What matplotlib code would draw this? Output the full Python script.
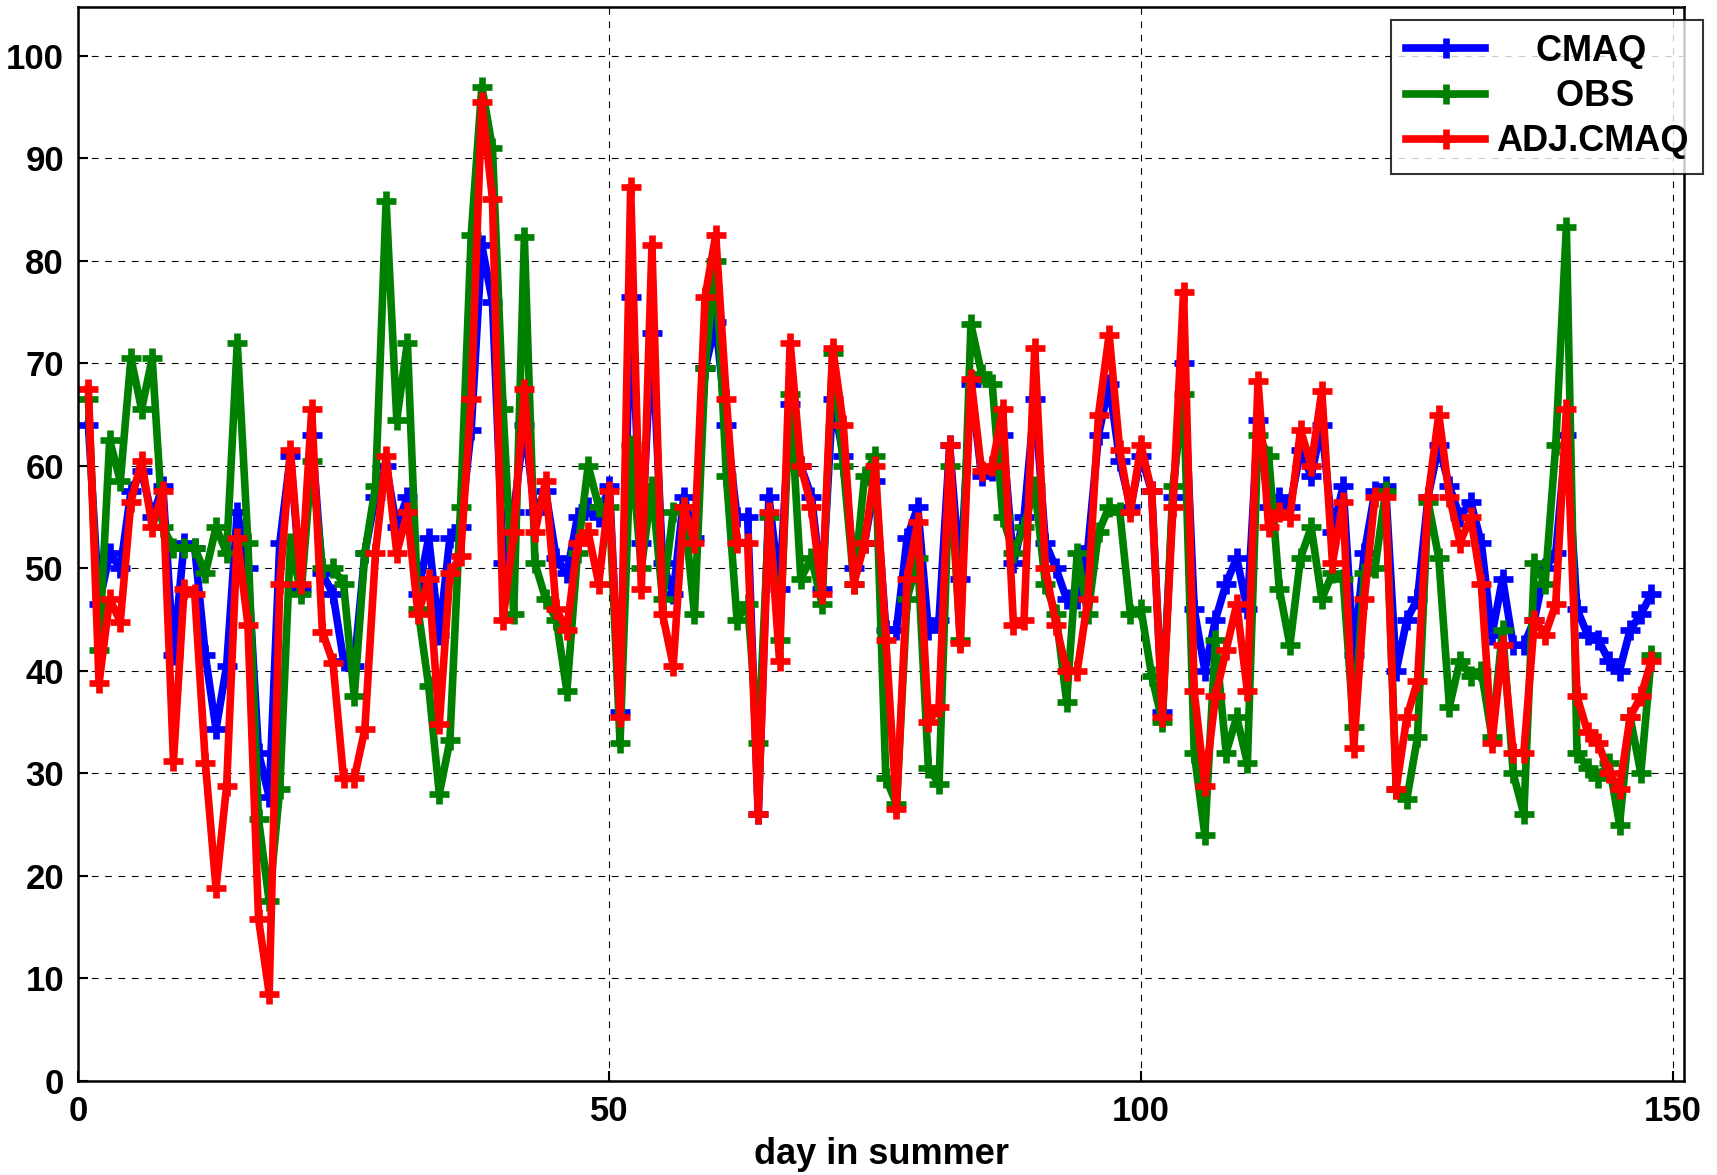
import numpy as np
import matplotlib
matplotlib.use('Agg')
import matplotlib.pyplot as plt

plt.rcParams['font.family'] = ['Liberation Sans', 'DejaVu Sans']
plt.rcParams['font.weight'] = 'bold'

days = np.arange(1, 149)

cmaq = [64, 46.5, 51.5, 50, 57.5, 59.5, 55, 58, 41.5, 52.5,
        52, 41.5, 34.3, 40.5, 55.5, 50, 32, 27.7, 52.5, 61,
        48, 63, 49.5, 47.5, 41, 40.5, 51.5, 57, 60, 54,
        57, 47.5, 53, 43.5, 53, 54, 63.5, 81.5, 76, 50.5,
        55.5, 64, 55.5, 57.5, 51, 49.5, 55, 56, 55, 58,
        36, 76.5, 52.5, 73, 50.5, 47.5, 57, 53, 69.5, 74,
        64, 55, 55, 26, 57, 48, 66, 60, 57, 48,
        66.5, 61, 50, 52.5, 58.5, 44, 44, 53, 56, 44,
        45, 62, 49, 68, 59, 59.5, 63, 50.5, 55, 66.5,
        52.5, 50, 47, 47, 52, 63, 68, 60.5, 56, 61,
        57.5, 36, 57, 70, 46, 40, 45, 48.5, 51, 46,
        64.5, 56, 57, 56, 61.5, 59, 64, 53.5, 58, 41.5,
        51.5, 57.5, 58, 40, 45, 47, 57, 62, 58, 55,
        56.5, 52.5, 43.5, 49, 42.5, 42.5, 45, 50, 51.5, 63,
        46, 43.5, 43, 41, 40, 44, 45.5, 47.5]

obs = [66.5, 42, 62.5, 58.5, 70.5, 65.5, 70.5, 54, 52, 52,
       52, 49.5, 54, 51.5, 72, 52.5, 25.5, 17.5, 28.5, 52.5,
       47.5, 60.5, 50, 50, 48.5, 37.5, 51.5, 58, 85.8, 64.5,
       72, 46, 38.5, 28, 33.2, 56, 82.5, 97, 91, 65.5,
       45.5, 82.3, 50.5, 47, 45, 38, 51.5, 60, 56, 56,
       33, 62, 50, 58, 47, 55.5, 56, 45.5, 69.5, 80,
       59, 45, 46.5, 33, 55, 43, 67, 49, 51, 46.5,
       71, 60, 48.5, 59, 61, 29.5, 27, 47, 51, 30.5,
       29, 60, 43, 73.8, 69, 68, 55, 51.5, 54, 58,
       48.5, 45.5, 37, 51.5, 45.5, 53.5, 56, 55.5, 45.5, 46,
       39.5, 35, 58, 67, 32, 24, 43, 32, 35.5, 31,
       63, 61, 48, 42.5, 51, 54, 47, 49.5, 49, 34.5,
       49.5, 50, 57.5, 28.5, 27.5, 33.5, 56.5, 51, 36.5, 41,
       39.5, 40, 33.5, 44, 30, 26, 50.5, 48.5, 62, 83.3,
       32, 30.5, 29.5, 31, 25, 35.5, 30, 41.5]

adj_cmaq = [67.5, 38.8, 47, 44.8, 56.5, 60.5, 54, 57.5, 31.2, 48,
            47.5, 31, 18.8, 28.8, 53, 44.5, 15.8, 8.5, 48.5, 61.5,
            48.5, 65.5, 43.8, 40.8, 29.5, 29.5, 34.3, 51.5, 61, 51.5,
            55.5, 45.5, 49, 34.8, 49.5, 51.2, 66.5, 95.5, 86, 45,
            53.5, 67.5, 53.5, 58.5, 46, 44, 52.5, 53.5, 48.5, 57.5,
            35.5, 87.2, 48, 81.5, 45.5, 40.5, 56, 52.5, 76.5, 82.5,
            66.5, 52.5, 52.5, 26, 55.5, 41, 72, 60, 56, 47.5,
            71.5, 64, 48.5, 52.5, 60, 43, 26.5, 49, 54.5, 35,
            36.5, 62, 42.7, 68.5, 59.5, 60, 65.5, 44.5, 45, 71.5,
            50, 44.5, 40, 40, 47, 65, 72.8, 61.5, 55.5, 62,
            57.5, 35.5, 56, 77, 38, 28.8, 37.5, 42, 46.5, 38,
            68.3, 54, 55.5, 55, 63.5, 60, 67.3, 50.5, 56.5, 32.5,
            47, 57, 57, 28.5, 35.5, 39, 57, 65, 57, 52.5,
            55, 48.5, 33, 42.5, 32, 32, 45, 43.5, 46.5, 65.5,
            37.5, 34, 33, 30, 28.5, 35.5, 37.5, 41]

fig = plt.figure(figsize=(17.17, 11.75), dpi=100)
ax = fig.add_axes([0.0453, 0.0802, 0.9357, 0.9142])

style = dict(linewidth=5.5, marker='+', markersize=14, markeredgewidth=4.8)
ax.plot(days, cmaq, color='#0000ff', label='    CMAQ', **style)
ax.plot(days, obs, color='#008000', label='      OBS', **style)
ax.plot(days, adj_cmaq, color='#ff0000', label='ADJ.CMAQ', **style)

ax.set_xlim(0, 151.1)
ax.set_ylim(0, 104.8)
ax.set_xticks([0, 50, 100, 150])
ax.set_yticks(np.arange(0, 101, 10))
ax.tick_params(direction='in', labelsize=25, length=7, width=1.5, pad=10)
for lbl in ax.get_xticklabels() + ax.get_yticklabels():
    lbl.set_fontweight('bold')
ax.grid(True, color='black', linestyle=(0, (6, 6)), linewidth=0.8)
for sp in ax.spines.values():
    sp.set_linewidth(1.8)

ax.set_xlabel('day in summer', fontsize=26, fontweight='bold', labelpad=7)

leg = ax.legend(loc='upper right', fontsize=26, handlelength=2.2,
                frameon=True, fancybox=False, edgecolor='black',
                borderpad=0.4, labelspacing=0.28, handletextpad=0.3,
                borderaxespad=0, bbox_to_anchor=(1.0116, 0.9878))
leg.get_frame().set_linewidth(1.5)
for t in leg.get_texts():
    t.set_fontweight('bold')

fig.savefig('out.png', dpi=100)
